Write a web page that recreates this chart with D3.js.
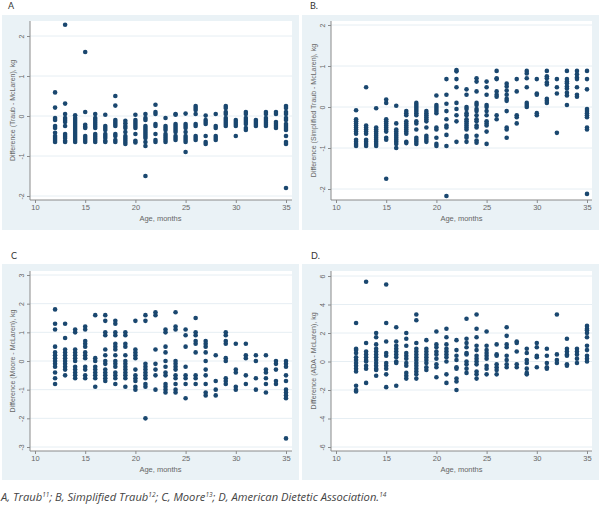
<!DOCTYPE html>
<html><head><meta charset="utf-8">
<script src="https://cdn.jsdelivr.net/npm/d3@7"></script>
<style>
html,body{margin:0;padding:0;background:#fff;}
svg{display:block;}
</style></head>
<body>
<svg id="chart" width="600" height="506"></svg>
<script>
const ages = [12,13,14,15,16,17,18,19,20,21,22,23,24,25,26,27,28,29,30,31,32,33,34,35];
const xTicks = [10,15,20,25,30,35];

// Panel A: Traub - McLaren (values per age)
const traubDiff = [
 [0.59,0.21,-0.05,-0.1,-0.25,-0.3,-0.42,-0.5,-0.55,-0.6,-0.65],
 [2.28,0.31,0.05,-0.05,-0.1,-0.15,-0.25,-0.45,-0.5,-0.55,-0.62,-0.65],
 [0.02,-0.05,-0.1,-0.15,-0.2,-0.25,-0.3,-0.35,-0.4,-0.45,-0.5,-0.55,-0.6,-0.65],
 [1.6,0.1,-0.22,-0.27,-0.3,-0.5,-0.55,-0.6,-0.65],
 [0.05,-0.05,-0.1,-0.15,-0.2,-0.25,-0.3,-0.45,-0.5,-0.55,-0.6,-0.65],
 [0.03,-0.25,-0.3,-0.35,-0.45,-0.5,-0.55,-0.62,-0.65],
 [0.5,0.26,-0.1,-0.15,-0.2,-0.25,-0.45,-0.5,-0.6,-0.65],
 [-0.12,-0.18,-0.25,-0.3,-0.4,-0.5,-0.55,-0.6,-0.65,-0.7],
 [0.03,-0.1,-0.15,-0.2,-0.25,-0.3,-0.45,-0.62,-0.66],
 [0.05,-0.05,-0.1,-0.25,-0.3,-0.35,-0.4,-0.45,-0.5,-0.55,-0.65,-0.75,-1.5],
 [0.28,0.1,0.05,-0.2,-0.25,-0.45,-0.6,-0.65],
 [-0.05,-0.25,-0.3,-0.35,-0.45,-0.5,-0.55,-0.6,-0.65],
 [0.05,0.03,-0.2,-0.25,-0.3,-0.35,-0.4,-0.5,-0.55,-0.6],
 [0.06,-0.2,-0.25,-0.3,-0.4,-0.5,-0.55,-0.6,-0.65,-0.9],
 [0.25,0.2,0.15,0.05,-0.2,-0.25,-0.5,-0.55,-0.6],
 [0.01,-0.1,-0.15,-0.2,-0.5,-0.65,-0.7],
 [0.05,-0.25,-0.3,-0.5,-0.55,-0.6],
 [0.25,0.2,0.1,0.05,-0.05,-0.1,-0.15,-0.2,-0.25],
 [-0.1,-0.15,-0.2,-0.25,-0.5],
 [0.1,0.05,-0.05,-0.1,-0.15,-0.2,-0.3,-0.35],
 [-0.1,-0.15,-0.2,-0.25],
 [0.1,0.05,-0.05,-0.1,-0.15,-0.2,-0.25],
 [0.1,0.05,-0.15,-0.2,-0.25,-0.3],
 [0.25,0.2,0.1,0.05,-0.05,-0.1,-0.2,-0.25,-0.3,-0.35,-0.5,-0.65,-0.7,-1.8]
];
const traubTicks = [-2,-1,0,1,2];

// Panel B: Simplified Traub - McLaren
const simpTraubDiff = [
 [-0.08,-0.3,-0.35,-0.4,-0.45,-0.5,-0.55,-0.6,-0.65,-0.8,-0.85,-0.9,-0.95],
 [0.48,-0.45,-0.5,-0.55,-0.6,-0.65,-0.8,-0.85,-0.9,-0.95],
 [-0.03,-0.5,-0.55,-0.6,-0.65,-0.7,-0.75,-0.8,-0.85,-0.9,-0.95],
 [0.18,0.1,-0.3,-0.35,-0.4,-0.45,-0.5,-0.55,-0.6,-0.75,-0.8,-1.75],
 [0.03,-0.4,-0.55,-0.6,-0.65,-0.7,-0.75,-0.8,-0.85,-0.9,-1.0],
 [-0.1,-0.15,-0.2,-0.35,-0.4,-0.45,-0.5,-0.55,-0.6,-0.65,-0.85,-0.88],
 [0.1,0.05,0,-0.05,-0.1,-0.15,-0.2,-0.35,-0.4,-0.55,-0.75,-0.8,-0.85,-0.9],
 [-0.1,-0.15,-0.2,-0.25,-0.3,-0.35,-0.5,-0.7,-0.75,-0.8,-0.85],
 [0.28,0.05,0,-0.05,-0.1,-0.15,-0.5,-0.55,-0.75,-0.9,-0.95],
 [0.68,0.3,0.08,-0.1,-0.3,-0.45,-0.5,-0.68,-0.95,-2.17],
 [0.9,0.87,0.68,0.48,0.1,-0.05,-0.2,-0.35,-0.85],
 [0.43,0.3,0,-0.05,-0.15,-0.2,-0.3,-0.35,-0.4,-0.45,-0.5,-0.55,-0.7,-0.75,-0.85],
 [0.7,0.62,0.38,0.1,0.05,-0.05,-0.1,-0.2,-0.3,-0.35,-0.45,-0.5,-0.7,-0.82,-0.87],
 [0.62,0.48,0.3,0.05,0,-0.1,-0.2,-0.35,-0.4,-0.45,-0.6,-0.9],
 [0.88,0.7,0.68,0.38,0.3,0.25,-0.2,-0.3],
 [0.57,0.5,0.4,0.3,0.2,0.15,-0.1,-0.5,-0.55,-0.75],
 [0.68,0.38,-0.2,-0.25,-0.4],
 [0.88,0.82,0.7,0.48,0.1,0.05,0.0],
 [0.68,0.33,0.3,-0.15,-0.2],
 [0.88,0.75,0.7,0.6,0.55,0.2,0.15,0.1],
 [0.68,0.48,0.33,-0.63],
 [0.88,0.68,0.62,0.58,0.5,0.45,0.35,0.28,0.05],
 [0.88,0.8,0.72,0.68,0.48,0.3,0.25],
 [0.88,0.68,0.43,-0.05,-0.1,-0.15,-0.2,-0.25,-0.5,-0.55,-2.12]
];
const simpTraubTicks = [-2,-1,0,1,2];

// Panel C: Moore - McLaren
const mooreDiff = [
 [1.8,1.3,1.1,0.5,0.3,0.2,0.1,0,-0.1,-0.2,-0.4,-0.6,-0.8],
 [1.3,0.8,0.4,0.3,0.2,0.1,0,-0.1,-0.2,-0.3,-0.5],
 [1.1,1.0,0.4,0.3,0.2,0.1,0,-0.2,-0.3,-0.4,-0.5,-0.6],
 [1.2,1.1,0.7,0.6,0.5,0.3,0.2,0.1,-0.2,-0.3,-0.5,-0.6],
 [1.6,0.1,0,-0.2,-0.3,-0.4,-0.5,-0.6,-0.9],
 [1.6,1.4,1.0,0.9,0.4,0.2,0,-0.1,-0.3,-0.4,-0.5,-0.6,-0.7],
 [1.4,1.3,1.0,0.9,0.6,0.5,0.4,0.2,0,-0.1,-0.2,-0.4,-0.5,-0.6,-0.8],
 [1.0,0.9,0.6,0.5,0.2,0,-0.1,-0.2,-0.3,-0.4,-0.5,-0.6,-0.9],
 [1.4,0.4,0.3,0.2,0.1,-0.3,-0.5,-0.6,-0.7,-0.9,-1.0],
 [1.6,1.4,-0.1,-0.2,-0.3,-0.4,-0.5,-0.6,-0.8,-0.9,-2.0],
 [1.7,1.6,0.4,-0.1,-0.3,-0.5,-1.0],
 [1.1,1.0,0.5,0.3,0,-0.2,-0.4,-0.5,-0.8,-0.9,-1.0,-1.1],
 [1.7,1.2,1.1,0,-0.1,-0.2,-0.3,-0.5,-0.6,-0.8,-1.0,-1.1],
 [1.1,0.9,0.5,-0.2,-0.5,-0.6,-0.8,-1.3],
 [1.5,1.0,0.9,0.7,0.6,0.3,-0.5,-0.6,-0.8],
 [0.7,0.6,0.5,0.3,0,-0.3,-0.5,-0.8,-1.1,-1.2],
 [0.2,-0.7,-1.0,-1.2],
 [1.0,0.9,0.7,0.6,0.1,0,-0.6,-0.7,-0.8],
 [0.6,-0.3,-0.4,-0.9,-1.0],
 [0.6,0.2,0.1,-0.5,-0.8],
 [0.2,0,-0.6,-1.0],
 [0.2,-0.3,-0.4,-0.6,-0.8,-1.1],
 [0,-0.1,-0.3,-0.7,-0.8],
 [0,-0.1,-0.2,-0.5,-0.7,-1.0,-1.1,-1.2,-1.3,-2.7]
];
const mooreTicks = [-3,-2,-1,0,1,2,3];

// Panel D: ADA - McLaren
const adaDiff = [
 [2.7,0.9,0.8,0.6,0.3,0.1,-0.1,-0.3,-0.5,-0.7,-1.7,-2.0,-2.1],
 [5.6,1.3,0.7,0.5,0.3,0.1,0,-0.3,-0.5,-1.5],
 [2.0,1.7,1.2,0.9,0.7,0.5,0.3,0.1,-0.1,-0.3,-0.5,-0.6,-1.0],
 [5.4,2.7,1.4,0.6,0.4,-0.1,-0.3,-0.5,-0.9,-1.8],
 [2.4,1.4,1.1,0.9,0.7,0.5,0.3,0,-0.1,-1.7],
 [2.0,1.6,1.1,0.6,0.4,0.2,-0.1,-0.3,-0.8,-1.0,-1.2],
 [3.3,2.9,1.3,0.9,0.7,0.5,0.3,0.1,-0.1,-0.3,-0.5,-0.7,-0.9,-1.2],
 [1.5,0.9,0.7,0.5,0.3,0.1,-0.1,-0.4,-0.6],
 [2.1,1.2,1.0,0.7,0.5,0.2,-0.2,-0.4,-1.1],
 [2.3,1.7,1.2,0.9,0.7,0.5,0.3,0,-0.9,-1.5],
 [1.5,0.8,0.4,0.1,-0.4,-0.5,-1.2,-1.4,-2.0],
 [3.0,1.6,1.3,1.0,0.6,0.5,0,-0.2,-0.5,-0.8],
 [3.3,2.3,1.7,1.1,0.8,0.4,0.2,0,-0.2,-0.7,-0.9,-1.2],
 [2.1,1.1,0.8,0.6,0.4,0.2,-0.3,-0.5,-0.9],
 [1.2,0.5,0.4,-0.2,-0.4,-0.6,-0.9],
 [2.4,1.8,1.2,1.0,0.4,0.1,-0.2,-0.4],
 [1.4,1.3,0.7,-0.2,-0.4],
 [0.9,0.6,0.1,-0.1,-0.5,-0.8,-0.9],
 [1.3,1.0,0.4,0.3,-0.4],
 [0.9,0.4,-0.1,-0.4,-0.5],
 [3.3,0.5,0.1,-0.1],
 [1.6,0.9,0.7,0.5,0.4,-0.2,-0.3],
 [0.9,0.7,0.5,0.2,-0.1],
 [2.5,2.3,2.2,2.0,1.7,1.1,0.8,0.4,0.2,0]
];
const adaTicks = [-6,-4,-2,0,2,4,6];

const panelLabels = ["A","B.","C","D."];
const yTitles = [
 "Difference (Traub - McLaren), kg",
 "Difference (Simplified Traub - McLaren), kg",
 "Difference (Moore - McLaren), kg",
 "Difference (ADA - McLaren), kg"
];
const xTitle = "Age, months";

const svg = d3.select("#chart");
const DOT = "#1a476f";
const BG = "#eaf2f6";
const AX = "#8a8a8a";
const TXT = "#666";
const AXFONT = "'Liberation Sans', Arial, sans-serif";

const layouts = [
 {ox:0,   oy:0,   lx:8,   bg:[2,15,297,215],   plot:[30,21,292,200],  yDom:[-2,2], yPix:[196,36],  data:traubDiff,     ticks:traubTicks},
 {ox:300, oy:0,   lx:10,  bg:[2,15,297,215],   plot:[31,21,292,200],  yDom:[-2,2], yPix:[189,25],  data:simpTraubDiff, ticks:simpTraubTicks},
 {ox:0,   oy:240, lx:11,  bg:[2,24,297,216],   plot:[30,31,292,211],  yDom:[-3,3], yPix:[207,35],  data:mooreDiff,     ticks:mooreTicks},
 {ox:300, oy:240, lx:11,  bg:[2,24,297,216],   plot:[31,31,292,211],  yDom:[-6,6], yPix:[207,36],  data:adaDiff,       ticks:adaTicks}
];

layouts.forEach((L,i)=>{
  const g = svg.append("g").attr("transform",`translate(${L.ox},${L.oy})`);
  g.append("rect").attr("x",L.bg[0]).attr("y",L.bg[1]).attr("width",L.bg[2]).attr("height",L.bg[3]).attr("fill",BG);
  const [pl,pt,pr,pb] = L.plot;
  g.append("rect").attr("x",pl).attr("y",pt).attr("width",pr-pl).attr("height",pb-pt).attr("fill","#fff");

  g.append("text").attr("x",L.lx).attr("y",i<2?9:19).text(panelLabels[i])
   .attr("font-family","Lato, 'Open Sans', sans-serif").attr("font-size",9).attr("fill","#333");

  const x = d3.scaleLinear().domain([10,35]).range([pl+5,pl+256]);
  const y = d3.scaleLinear().domain(L.yDom).range(L.yPix);

  // gridlines
  g.append("g").selectAll("line").data(L.ticks).join("line")
   .attr("x1",pl).attr("x2",pr).attr("y1",d=>y(d)).attr("y2",d=>y(d))
   .attr("stroke","#e6eef3").attr("stroke-width",1);

  // x axis
  const xa = g.append("g").attr("transform",`translate(0,${pb})`)
    .call(d3.axisBottom(x).tickValues(xTicks).tickFormat(d=>String(d)).tickSize(3).tickPadding(2));
  xa.select(".domain").attr("d",`M${pl},0H${pr}`).attr("stroke",AX);
  xa.selectAll(".tick line").attr("stroke",AX);
  xa.selectAll("text").attr("font-family",AXFONT).attr("font-size",7.5).attr("fill",TXT);

  // y axis
  const ya = g.append("g").attr("transform",`translate(${pl},0)`)
    .call(d3.axisLeft(y).tickValues(L.ticks).tickFormat(d=>String(d)).tickSize(3).tickPadding(2));
  ya.select(".domain").attr("d",`M0,${pt}V${pb}`).attr("stroke",AX);
  ya.selectAll(".tick line").attr("stroke",AX);
  ya.selectAll("text").attr("font-family",AXFONT).attr("font-size",7)
    .attr("fill",TXT).attr("text-anchor","middle").attr("dy",0).attr("x",0).attr("y",0)
    .attr("transform","translate(-6,0) rotate(-90)");

  // titles
  g.append("text").attr("x",x(22.5)).attr("y",pb+21).attr("text-anchor","middle")
   .attr("font-family",AXFONT).attr("font-size",7.5).attr("fill",TXT).text(xTitle);
  g.append("text").attr("transform",`translate(${pl-15},${(pt+pb)/2}) rotate(-90)`).attr("text-anchor","middle")
   .attr("font-family",AXFONT).attr("font-size",7).attr("fill",TXT).text(yTitles[i]);

  // points
  const pts = [];
  ages.forEach((a,k)=>L.data[k].forEach(v=>pts.push([a,v])));
  g.append("g").selectAll("circle").data(pts).join("circle")
   .attr("cx",d=>x(d[0])).attr("cy",d=>y(d[1])).attr("r",2.3).attr("fill",DOT);
});

// caption
const cap = svg.append("text").attr("x",1).attr("y",501)
  .attr("font-family","'Open Sans', Lato, sans-serif").attr("font-style","italic").attr("font-size",11.2).attr("fill","#444");
const parts = [["A, Traub",0],["11",1],["; B, Simplified Traub",0],["12",1],["; C, Moore",0],["13",1],["; D, American Dietetic Association.",0],["14",1]];
parts.forEach(([t,s],idx)=>{
  const ts = cap.append("tspan").text(t);
  if(s){ ts.attr("font-size",6.5).attr("dy",-4); }
  else if(idx>0){ ts.attr("dy",4); }
});
</script>
</body></html>
